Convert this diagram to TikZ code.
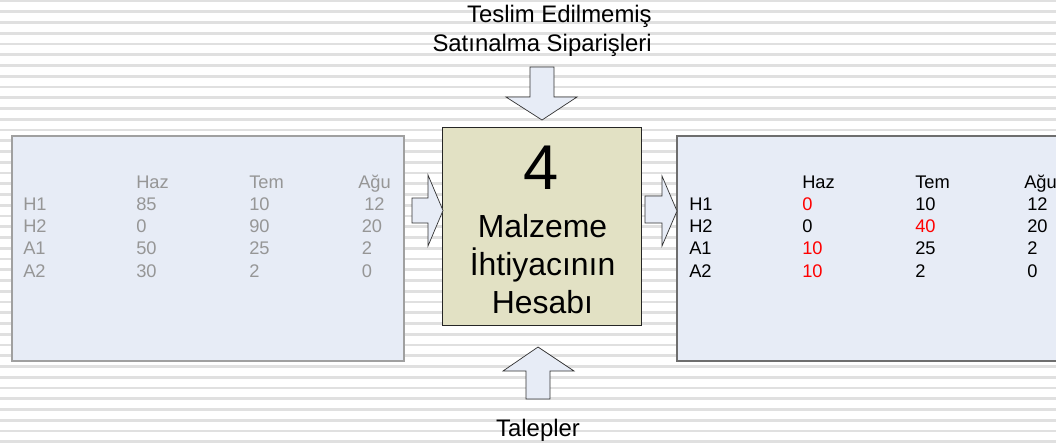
\documentclass[tikz,border=0pt]{standalone}
\usepackage{fontspec}
\setmainfont{Liberation Sans}
\usetikzlibrary{positioning}
\definecolor{stripegray}{RGB}{224,224,224}
\definecolor{panelblue}{RGB}{231,236,246}
\definecolor{inborder}{RGB}{160,160,160}
\definecolor{outborder}{RGB}{110,110,110}
\definecolor{processkhaki}{RGB}{226,225,196}
\definecolor{fadedtext}{RGB}{150,150,150}
\definecolor{flagred}{RGB}{255,0,0}
\tikzset{
    % Background stripes
    stripe/.style={draw=stripegray, line width=2.1pt},
    % Input / output panels
    panel/.style={
        rectangle, fill=panelblue, line width=0.8pt,
        minimum width=9.8cm, minimum height=5.625cm
    },
    % Process box
    processbox/.style={
        rectangle, draw=black!85, fill=processkhaki, line width=0.7pt,
        minimum width=4.95cm, minimum height=4.925cm
    },
    % Block arrows
    blockarrow/.style={draw=black!80, fill=panelblue, line width=0.5pt, line join=miter},
    % Table cells
    cell/.style={anchor=base west, inner sep=0pt, font=\fontsize{13}{15}\selectfont},
    % Captions
    caption/.style={inner sep=0pt, font=\fontsize{17}{20}\selectfont},
    proctext/.style={anchor=base, inner sep=0pt, font=\fontsize{22.7}{27}\selectfont}
}
\begin{document}
\begin{tikzpicture}[x=0.025cm, y=-0.025cm]

\clip (0,0) rectangle (1056,443);
\fill[white] (0,0) rectangle (1056,443);

% Striped background
\foreach \k in {0,...,41}
    \draw[stripe] (0,{1+10.75*\k}) -- (1056,{1+10.75*\k});

% Panels and process box
\node[panel, draw=inborder] (inpanel) at (208,248.5) {};
\node[panel, draw=outborder] (outpanel) at (873,248.5) {};
\node[processbox] (process) at (542,226.5) {};

% Process text
\node[inner sep=0pt, anchor=base, font=\fontsize{45}{50}\selectfont] (procnum) at (541,189) {4};
\node[proctext] (procline1) at (542.5,237) {Malzeme};
\node[proctext] (procline2) at (542.5,275) {İhtiyacının};
\node[proctext] (procline3) at (542.5,313) {Hesabı};

% Captions
\node[caption, anchor=base east] (topline1) at (652,22.7) {Teslim Edilmemiş};
\node[caption, anchor=base east] (topline2) at (652,51.7) {Satınalma Siparişleri};
\node[caption, anchor=base] (bottomcap) at (538,436.7) {Talepler};

% Block arrows
\draw[blockarrow] (530,67) -- (554,67) -- (554,97) -- (577,97) -- (542,120) -- (506,97) -- (530,97) -- cycle;
\draw[blockarrow] (526,399) -- (550,399) -- (550,371) -- (574,371) -- (538,347) -- (503,371) -- (526,371) -- cycle;
\draw[blockarrow] (412,198) -- (428,198) -- (428,175) -- (443,210.5) -- (428,246) -- (428,223) -- (412,223) -- cycle;
\draw[blockarrow] (645,196) -- (662,196) -- (662,176) -- (677,211) -- (662,246) -- (662,223) -- (645,223) -- cycle;

% Input table (faded)
\foreach \lbl/\ha/\te/\ag [count=\i from 0] in {{}/Haz/Tem/Ağu, H1/85/10/12, H2/0/90/20, A1/50/25/2, A2/30/2/0} {
    \node[cell, text=fadedtext] (in-\i-a) at (23,{188+22.25*\i}) {\lbl};
    \node[cell, text=fadedtext] (in-\i-b) at (136,{188+22.25*\i}) {\ha};
    \node[cell, text=fadedtext] (in-\i-c) at (249,{188+22.25*\i}) {\te};
}
\node[cell, text=fadedtext] (in-0-d) at (358,188) {Ağu};
\node[cell, text=fadedtext] (in-1-d) at (364,210.25) {12};
\node[cell, text=fadedtext] (in-2-d) at (361.5,232.5) {20};
\node[cell, text=fadedtext] (in-3-d) at (361.5,254.75) {2};
\node[cell, text=fadedtext] (in-4-d) at (361.5,277) {0};

% Output table
\foreach \lbl/\ha/\te/\ag [count=\i from 0] in {{}/Haz/Tem/Ağu, H1/{\textcolor{flagred}{0}}/10/12, H2/0/{\textcolor{flagred}{40}}/20, A1/{\textcolor{flagred}{10}}/25/2, A2/{\textcolor{flagred}{10}}/2/0} {
    \node[cell] (out-\i-a) at (689,{188+22.25*\i}) {\lbl};
    \node[cell] (out-\i-b) at (802,{188+22.25*\i}) {\ha};
    \node[cell] (out-\i-c) at (915,{188+22.25*\i}) {\te};
}
\node[cell] (out-0-d) at (1024,188) {Ağu};
\node[cell] (out-1-d) at (1027,210.25) {12};
\node[cell] (out-2-d) at (1027,232.5) {20};
\node[cell] (out-3-d) at (1027,254.75) {2};
\node[cell] (out-4-d) at (1027,277) {0};

\end{tikzpicture}
\end{document}
